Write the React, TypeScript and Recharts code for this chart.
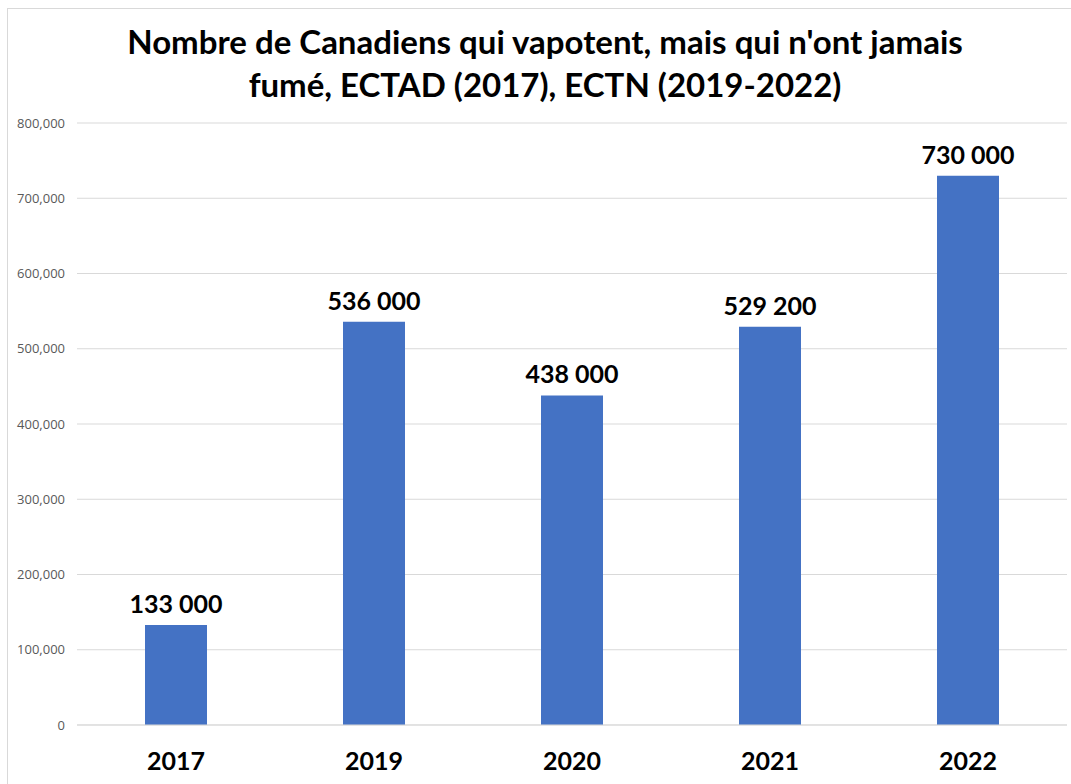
import { BarChart, Bar, XAxis, YAxis, CartesianGrid, LabelList } from 'recharts';

const years = ['2017', '2019', '2020', '2021', '2022'];
const vapers = [133000, 536000, 438000, 529200, 730000];
const yTicks = [0, 100000, 200000, 300000, 400000, 500000, 600000, 700000, 800000];
const titleLines = [
  "Nombre de Canadiens qui vapotent, mais qui n'ont jamais",
  'fumé, ECTAD (2017), ECTN (2019-2022)',
];

const data = years.map((year, i) => ({ name: year, value: vapers[i] }));

const fmtLabel = (v: number) => v.toLocaleString('en-US').replace(/,/g, ' ');
const fmtTick = (v: number) => v.toLocaleString('en-US');

export default function App() {
  return (
    <div style={{ position: 'absolute', left: 0, top: 0, width: 1071, height: 784, background: '#fff' }}>
      <div
        style={{
          position: 'absolute',
          left: 7,
          top: 8,
          right: 0,
          bottom: 0,
          borderLeft: '1px solid #d9d9d9',
          borderTop: '1px solid #d9d9d9',
        }}
      />
      <div
        style={{
          position: 'absolute',
          left: 0,
          top: 20,
          width: 1090,
          textAlign: 'center',
          fontFamily: 'Lato, "Open Sans", sans-serif',
          fontWeight: 700,
          fontSize: 33,
          lineHeight: '43px',
          color: '#000',
        }}
      >
        {titleLines.map((l) => (
          <div key={l}>{l}</div>
        ))}
      </div>
      <BarChart
        width={1071}
        height={784}
        data={data}
        margin={{ top: 123, right: 4, bottom: 29, left: 0 }}
        style={{ position: 'absolute', left: 0, top: 0 }}
      >
        <CartesianGrid vertical={false} stroke="#d9d9d9" />
        <XAxis
          dataKey="name"
          height={30}
          axisLine={{ stroke: '#d9d9d9' }}
          tickLine={false}
          tickMargin={21}
          tick={{ fill: '#000', fontSize: 25, fontWeight: 700, fontFamily: 'Lato, "Open Sans", sans-serif' }}
        />
        <YAxis
          width={77}
          domain={[0, 800000]}
          ticks={yTicks}
          tickFormatter={fmtTick}
          axisLine={false}
          tickLine={false}
          tickMargin={6}
          tick={{ fill: '#595959', fontSize: 13, fontFamily: '"Open Sans", sans-serif' }}
        />
        <Bar dataKey="value" fill="#4472C4" barSize={62} isAnimationActive={false}>
          <LabelList
            dataKey="value"
            position="top"
            offset={12}
            formatter={(v: number) => fmtLabel(v)}
            style={{ fill: '#000', fontSize: 25, fontWeight: 700, fontFamily: 'Lato, "Open Sans", sans-serif' }}
          />
        </Bar>
      </BarChart>
    </div>
  );
}
